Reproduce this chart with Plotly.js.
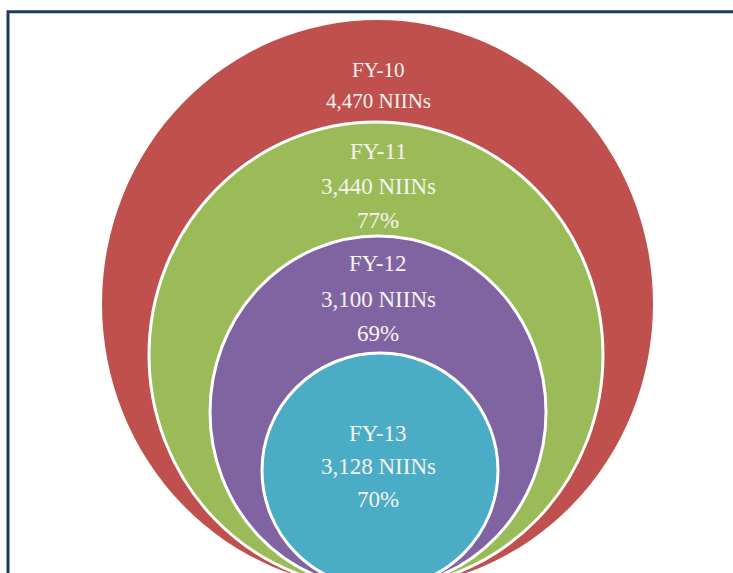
<!DOCTYPE html>
<html>
<head>
<meta charset="utf-8">
<script src="https://cdn.plot.ly/plotly-3.0.1.min.js"></script>
<style>html,body{margin:0;padding:0;background:#fff;}#chart{width:733px;height:573px;}</style>
</head>
<body>
<div id="chart"></div>
<script>
// ---- data ----
const fiscalYears = ["FY-10", "FY-11", "FY-12", "FY-13"];
const niinCounts = [4470, 3440, 3100, 3128];
const percentOfFY10 = [null, 77, 69, 70];

// ---- layout (pixel-space geometry of the nested rings) ----
const ringColors = ["#c0504d", "#9bbb59", "#8064a2", "#4bacc6"];
const ringLeft   = [102, 149, 210, 262];
const ringRight  = [653, 603, 546, 498];
const ringTop    = [20, 122, 236, 353];
const ringBottom = [588, 588, 588, 588];
const labelRows  = [[70, 101], [151, 186, 220], [263, 299, 333], [433, 466, 499]];
const labelSize  = [21, 23, 23, 23];
const centerX = 378;

const fmt = n => n.toLocaleString("en-US");

const shapes = [];
fiscalYears.forEach((fy, i) => {
  shapes.push({
    type: "circle", xref: "x", yref: "y",
    x0: ringLeft[i], x1: ringRight[i], y0: ringTop[i], y1: ringBottom[i],
    fillcolor: ringColors[i],
    line: {color: "#ffffff", width: i === 0 ? 0 : 3},
    layer: "above"
  });
});
// frame
shapes.push({type: "rect", xref: "x", yref: "y", x0: 8, x1: 745, y0: 11.7, y1: 600,
  line: {color: "#1c3a64", width: 3}, fillcolor: "rgba(0,0,0,0)", layer: "above"});

const annotations = [];
fiscalYears.forEach((fy, i) => {
  const lines = [fy, fmt(niinCounts[i]) + " NIINs"];
  if (percentOfFY10[i] !== null) lines.push(percentOfFY10[i] + "%");
  lines.forEach((t, j) => {
    annotations.push({
      x: centerX, y: labelRows[i][j], xref: "x", yref: "y",
      text: t, showarrow: false, xanchor: "center", yanchor: "middle",
      font: {family: "Liberation Serif, Times New Roman, serif", size: labelSize[i], color: "#f7f3f0"}
    });
  });
});

const data = [{x: [], y: [], type: "scatter", mode: "markers", hoverinfo: "skip", showlegend: false}];

const layout = {
  width: 733, height: 573,
  margin: {l: 0, r: 0, t: 0, b: 0},
  paper_bgcolor: "#ffffff", plot_bgcolor: "#ffffff",
  xaxis: {range: [0, 733], visible: false, fixedrange: true},
  yaxis: {range: [573, 0], visible: false, fixedrange: true},
  shapes: shapes,
  annotations: annotations,
  showlegend: false
};

Plotly.newPlot("chart", data, layout, {displayModeBar: false, staticPlot: true});
</script>
</body>
</html>
